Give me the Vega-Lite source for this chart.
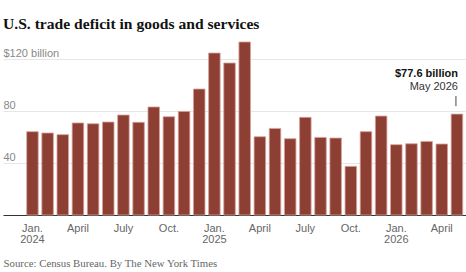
{
  "$schema": "https://vega.github.io/schema/vega-lite/v6.json",
  "width": 463,
  "height": 156,
  "autosize": {"type": "none"},
  "padding": {"left": 3, "top": 59, "right": 0, "bottom": 57},
  "background": "white",
  "title": {
    "text": "U.S. trade deficit in goods and services",
    "anchor": "start",
    "font": "Liberation Serif",
    "fontSize": 15.6,
    "fontWeight": "bold",
    "color": "#121212",
    "offset": 9
  },
  "data": {
    "values": [
      {"month": "2024-01", "value": 64.1},
      {"month": "2024-02", "value": 63.1},
      {"month": "2024-03", "value": 61.8},
      {"month": "2024-04", "value": 70.8},
      {"month": "2024-05", "value": 70.2},
      {"month": "2024-06", "value": 71.5},
      {"month": "2024-07", "value": 76.9},
      {"month": "2024-08", "value": 71.3},
      {"month": "2024-09", "value": 83.1},
      {"month": "2024-10", "value": 75.6},
      {"month": "2024-11", "value": 79.7},
      {"month": "2024-12", "value": 96.9},
      {"month": "2025-01", "value": 124.6},
      {"month": "2025-02", "value": 116.9},
      {"month": "2025-03", "value": 133.1},
      {"month": "2025-04", "value": 60.2},
      {"month": "2025-05", "value": 66.6},
      {"month": "2025-06", "value": 58.7},
      {"month": "2025-07", "value": 75.1},
      {"month": "2025-08", "value": 59.7},
      {"month": "2025-09", "value": 59.2},
      {"month": "2025-10", "value": 37.4},
      {"month": "2025-11", "value": 64.1},
      {"month": "2025-12", "value": 76.1},
      {"month": "2026-01", "value": 54.1},
      {"month": "2026-02", "value": 54.8},
      {"month": "2026-03", "value": 56.6},
      {"month": "2026-04", "value": 54.6},
      {"month": "2026-05", "value": 77.6}
    ]
  },
  "encoding": {
    "x": {
      "field": "month",
      "type": "ordinal",
      "sort": null,
      "scale": {"paddingInner": 0.24, "paddingOuter": 0.89, "align": 0.878},
      "axis": {
        "title": "Source: Census Bureau.  By The New York Times",
        "titleFont": "Liberation Serif",
        "titleFontSize": 10.8,
        "titleFontWeight": "normal",
        "titleColor": "#666666",
        "titleAnchor": "start",
        "titleAlign": "left",
        "titleBaseline": "middle",
        "titleX": 0,
        "titleY": 48.5,
        "labelAngle": 0,
        "labelFont": "Liberation Sans",
        "labelFontSize": 11,
        "labelColor": "#666666",
        "labelPadding": 7,
        "labelLineHeight": 11.5,
        "labelOverlap": false,
        "labelBaseline": "top",
        "ticks": false,
        "domainColor": "#333333",
        "domainWidth": 1,
        "labelExpr": "substring(datum.value,5,7) == '01' ? ['Jan.', substring(datum.value,0,4)] : substring(datum.value,5,7) == '04' ? 'April' : substring(datum.value,5,7) == '07' ? 'July' : substring(datum.value,5,7) == '10' ? 'Oct.' : ''"
      }
    }
  },
  "layer": [
    {
      "mark": {"type": "bar", "color": "#8e3f34", "stroke": "#d5a29b", "strokeWidth": 0.8},
      "encoding": {
        "y": {
          "field": "value",
          "type": "quantitative",
          "scale": {"domain": [0, 120], "nice": false},
          "axis": {
            "title": null,
            "values": [0, 40, 80, 120],
            "domain": false,
            "ticks": false,
            "grid": true,
            "gridColor": "#e6e6e6",
            "gridWidth": 1,
            "labelAlign": "left",
            "labelBaseline": "bottom",
            "labelPadding": 0,
            "labelOffset": -1,
            "labelFont": "Liberation Sans",
            "labelFontSize": 11,
            "labelColor": "#888888",
            "labelExpr": "datum.value == 120 ? '$120 billion' : datum.value == 0 ? '' : datum.label"
          }
        }
      }
    },
    {
      "transform": [{"filter": "datum.month == '2026-05'"}],
      "mark": {"type": "rule", "color": "#444444", "strokeWidth": 1, "yOffset": -8, "y2Offset": -18, "xOffset": -1},
      "encoding": {
        "y": {"field": "value", "type": "quantitative"},
        "y2": {"field": "value"}
      }
    },
    {
      "transform": [{"filter": "datum.month == '2026-05'"}],
      "mark": {"type": "text", "text": "$77.6 billion", "align": "right", "baseline": "middle", "dx": 1, "dy": -40, "font": "Liberation Sans", "fontSize": 11, "fontWeight": "bold", "color": "#121212"},
      "encoding": {
        "y": {"field": "value", "type": "quantitative"}
      }
    },
    {
      "transform": [{"filter": "datum.month == '2026-05'"}],
      "mark": {"type": "text", "text": "May 2026", "align": "right", "baseline": "middle", "dx": 1, "dy": -27, "font": "Liberation Sans", "fontSize": 11, "color": "#333333"},
      "encoding": {
        "y": {"field": "value", "type": "quantitative"}
      }
    }
  ],
  "config": {
    "view": {"stroke": null}
  }
}
